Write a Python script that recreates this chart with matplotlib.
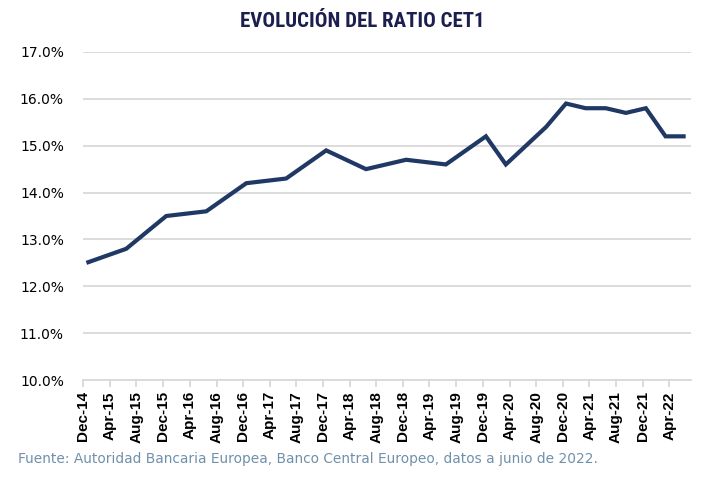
import matplotlib
matplotlib.use("Agg")
import matplotlib.pyplot as plt
import matplotlib.dates as mdates
from matplotlib import font_manager
import pandas as pd
from matplotlib.ticker import FuncFormatter

# datos (semestral hasta dic-19, trimestral despues)
fechas = [
    "2014-12", "2015-06", "2015-12", "2016-06", "2016-12", "2017-06",
    "2017-12", "2018-06", "2018-12", "2019-06", "2019-12", "2020-03",
    "2020-09", "2020-12", "2021-03", "2021-06", "2021-09", "2021-12",
    "2022-03", "2022-06",
]
cet1 = [
    12.5, 12.8, 13.5, 13.6, 14.2, 14.3,
    14.9, 14.5, 14.7, 14.6, 15.2, 14.6,
    15.4, 15.9, 15.8, 15.8, 15.7, 15.8,
    15.2, 15.2,
]
y_ticks = [10, 11, 12, 13, 14, 15, 16, 17]

titulo = "EVOLUCIÓN DEL RATIO CET1"
fuente = "Fuente: Autoridad Bancaria Europea, Banco Central Europeo, datos a junio de 2022."


def condensed_font():
    fonts = font_manager.fontManager.ttflist
    names = {f.name for f in fonts}
    for cand in ["Roboto Condensed", "Liberation Sans Narrow", "Open Sans Condensed"]:
        if cand in names:
            return cand, "normal"
    for f in fonts:
        if f.name == "DejaVu Sans" and f.stretch == "condensed":
            return "DejaVu Sans", "condensed"
    return "DejaVu Sans", "normal"


x = pd.to_datetime(fechas) + pd.Timedelta(days=14)
tick_dates = pd.date_range("2014-12-01", "2022-04-01", freq="4MS")

fig = plt.figure(figsize=(7.14, 4.80), dpi=100)
ax = fig.add_axes([0.1167, 0.2083, 0.8513, 0.6834])

ax.plot(x, cet1, color="#203864", lw=3.0, solid_joinstyle="miter", solid_capstyle="butt", zorder=3)

ax.set_ylim(10, 17)
ax.set_yticks(y_ticks)
ax.yaxis.set_major_formatter(FuncFormatter(lambda v, p: f"{v:.1f}%"))
ax.set_xlim(pd.Timestamp("2014-12-01"), pd.Timestamp("2022-07-10"))
ax.set_xticks(tick_dates)
ax.xaxis.set_major_formatter(mdates.DateFormatter("%b-%y"))

ax.grid(axis="y", color="#d9d9d9", lw=1.3)
ax.set_axisbelow(True)
for s in ["top", "right", "left"]:
    ax.spines[s].set_visible(False)
ax.spines["bottom"].set_color("#d9d9d9")
ax.spines["bottom"].set_linewidth(1.3)

ax.tick_params(axis="y", length=0, pad=14, labelsize=10, labelcolor="black")
ax.tick_params(axis="x", length=5, width=1.3, color="#d9d9d9", pad=3)
for lbl in ax.get_xticklabels():
    lbl.set_rotation(90)
    lbl.set_fontfamily(["Liberation Sans", "DejaVu Sans"])
    lbl.set_fontweight("bold")
    lbl.set_fontsize(11)

fam, stretch = condensed_font()
fig.text(0.508, 0.956, titulo, ha="center", va="center", fontsize=15,
         fontweight="bold", color="#1a1f4f", family=fam, fontstretch=stretch)
fig.text(0.025, 0.043, fuente, ha="left", va="center", fontsize=9.9, color="#7090aa")

fig.savefig("out.png", dpi=100)
